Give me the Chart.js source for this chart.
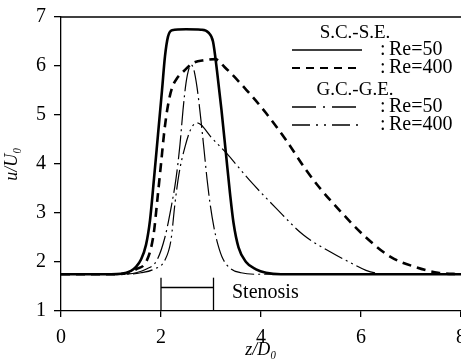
<!DOCTYPE html>
<html>
<head>
<meta charset="utf-8">
<script src="https://cdn.jsdelivr.net/npm/chart.js@4/dist/chart.umd.min.js"></script>
<style>
  html, body { margin: 0; padding: 0; background: #fff; }
  #wrap { width: 461px; height: 361px; }
</style>
</head>
<body>
<div id="wrap"><canvas id="chart" width="461" height="361"></canvas></div>
<script>
// S.C.-S.E., Re=50 (solid)
const scZ50 = [0, 1.0, 1.2, 1.4, 1.5, 1.6, 1.7, 1.78, 1.86, 1.94, 2.02, 2.08, 2.14, 2.22, 2.5, 2.8, 2.95, 3.04, 3.12, 3.21, 3.3, 3.38, 3.45, 3.55, 3.7, 3.9, 4.1, 4.4, 8];
const scU50 = [1.75, 1.75, 1.76, 1.82, 1.9, 2.05, 2.35, 2.85, 3.7, 4.6, 5.5, 6.2, 6.6, 6.73, 6.75, 6.74, 6.68, 6.5, 5.9, 5.1, 4.2, 3.4, 2.8, 2.3, 2.0, 1.85, 1.78, 1.75, 1.75];

// S.C.-S.E., Re=400 (dashed)
const scZ400 = [0, 1.0, 1.3, 1.5, 1.72, 1.85, 1.93, 2.0, 2.07, 2.14, 2.22, 2.32, 2.44, 2.64, 2.88, 3.08, 3.27, 3.71, 4.1, 4.5, 4.9, 5.16, 5.62, 6.09, 6.6, 7.08, 7.54, 8];
const scU400 = [1.75, 1.75, 1.77, 1.85, 2.04, 2.55, 3.3, 4.0, 4.7, 5.2, 5.55, 5.75, 5.88, 6.06, 6.12, 6.14, 5.98, 5.51, 5.04, 4.49, 3.88, 3.53, 3.0, 2.51, 2.1, 1.9, 1.78, 1.75];

// G.C.-G.E., Re=50 (dash-dot)
const gcZ50 = [0, 1.2, 1.5, 1.7, 1.92, 2.08, 2.2, 2.3, 2.38, 2.44, 2.5, 2.56, 2.6, 2.65, 2.72, 2.78, 2.86, 2.92, 2.98, 3.06, 3.14, 3.24, 3.4, 3.6, 3.9, 8];
const gcU50 = [1.75, 1.75, 1.78, 1.85, 2.04, 2.51, 3.1, 3.7, 4.4, 5.1, 5.65, 5.95, 6.02, 5.95, 5.57, 5.07, 4.3, 3.7, 3.2, 2.7, 2.35, 2.06, 1.86, 1.78, 1.75, 1.75];

// G.C.-G.E., Re=400 (dash-dot-dot)
const gcZ400 = [0, 1.3, 1.6, 1.85, 2.08, 2.2, 2.28, 2.36, 2.48, 2.6, 2.72, 2.8, 3.0, 3.31, 3.77, 4.3, 4.85, 5.4, 5.8, 6.1, 6.4, 6.7, 8];
const gcU400 = [1.75, 1.75, 1.78, 1.85, 2.04, 2.45, 3.2, 3.8, 4.35, 4.72, 4.84, 4.8, 4.55, 4.22, 3.67, 3.1, 2.55, 2.2, 1.98, 1.83, 1.76, 1.75, 1.75];

// stenosis marker
const stenosisZ = [2, 3.05];
const stenosisTopU = 1.68;
const stenosisArrowU = 1.48;

const xTicks = [0, 2, 4, 6, 8];
const yTicks = [1, 2, 3, 4, 5, 6, 7];

const serif = '"Liberation Serif", "Times New Roman", serif';
Chart.defaults.font.family = serif;
Chart.defaults.color = "#000";

function pts(zs, us) {
  return zs.map((z, i) => ({ x: z, y: us[i] }));
}

const curveBase = {
  borderColor: "#000",
  pointRadius: 0,
  fill: false,
  cubicInterpolationMode: "monotone",
};

const markBase = {
  borderColor: "#000",
  borderWidth: 1.3,
  pointRadius: 0,
  fill: false,
  tension: 0,
};

const legendStyles = [
  { head: "S.C.-S.E." },
  { dash: [], width: 1.6, label: "Re=50" },
  { dash: [8, 6], width: 2, label: "Re=400" },
  { head: "G.C.-G.E." },
  { dash: [24, 7, 2, 7], width: 1.6, label: "Re=50" },
  { dash: [18, 6, 2, 6, 2, 6], width: 1.6, label: "Re=400" },
];

const extras = {
  id: "extras",
  afterDraw(chart) {
    const { ctx, chartArea, scales } = chart;
    ctx.save();
    // top border
    ctx.strokeStyle = "#000";
    ctx.lineWidth = 1.3;
    ctx.beginPath();
    ctx.moveTo(chartArea.left, chartArea.top);
    ctx.lineTo(chart.width, chartArea.top);
    ctx.stroke();

    // stenosis label
    ctx.fillStyle = "#000";
    ctx.font = "20px " + serif;
    ctx.textBaseline = "middle";
    ctx.textAlign = "left";
    ctx.fillText("Stenosis", scales.x.getPixelForValue(3.42), scales.y.getPixelForValue(1.37));

    // legend
    const rowY = [33, 50, 68, 90, 107, 125];
    legendStyles.forEach((r, i) => {
      const y = rowY[i];
      if (r.head) {
        ctx.font = "19px " + serif;
        ctx.textAlign = "center";
        ctx.fillText(r.head, 355, y);
        return;
      }
      ctx.setLineDash(r.dash);
      ctx.lineWidth = r.width;
      ctx.beginPath();
      ctx.moveTo(292, y);
      ctx.lineTo(362, y);
      ctx.stroke();
      ctx.setLineDash([]);
      ctx.font = "20px " + serif;
      ctx.textAlign = "left";
      ctx.fillText(":", 380, y);
      ctx.fillText(r.label, 389, y);
    });
    ctx.restore();
  },
};

new Chart(document.getElementById("chart"), {
  type: "line",
  data: {
    datasets: [
      { ...curveBase, data: pts(scZ50, scU50), borderWidth: 2.6 },
      { ...curveBase, data: pts(scZ400, scU400), borderWidth: 2.6, borderDash: [9, 6] },
      { ...curveBase, data: pts(gcZ50, gcU50), borderWidth: 1.2, borderDash: [24, 4, 2, 4] },
      { ...curveBase, data: pts(gcZ400, gcU400), borderWidth: 1.2, borderDash: [20, 4, 2, 4, 2, 4] },
      { ...markBase, data: [{ x: stenosisZ[0], y: 1 }, { x: stenosisZ[0], y: stenosisTopU }] },
      { ...markBase, data: [{ x: stenosisZ[1], y: 1 }, { x: stenosisZ[1], y: stenosisTopU }] },
      { ...markBase, data: [{ x: stenosisZ[0], y: stenosisArrowU }, { x: stenosisZ[1], y: stenosisArrowU }] },
    ],
  },
  options: {
    responsive: false,
    animation: false,
    devicePixelRatio: 1,
    layout: { padding: { top: 17, left: 0, right: 0, bottom: 0 } },
    plugins: { legend: { display: false }, tooltip: { enabled: false } },
    scales: {
      x: {
        type: "linear",
        min: 0,
        max: 8,
        afterBuildTicks: (s) => { s.ticks = xTicks.map((v) => ({ value: v })); },
        afterFit: (s) => { s.height = 50; s.paddingRight = 0; s.paddingLeft = 0; },
        ticks: { font: { size: 20 }, padding: 9, color: "#000" },
        grid: { drawOnChartArea: false, tickLength: 6, color: "#000", lineWidth: 1.3 },
        border: { color: "#000", width: 1.3 },
        title: {
          display: true,
          text: "z/D\u2080",
          font: { size: 18, style: "italic" },
          padding: { top: 0, bottom: 0 },
        },
      },
      y: {
        type: "linear",
        min: 1,
        max: 7,
        afterBuildTicks: (s) => { s.ticks = yTicks.map((v) => ({ value: v })); },
        afterFit: (s) => { s.width = 61; s.paddingTop = 0; },
        ticks: { font: { size: 20 }, padding: 8, color: "#000" },
        grid: { drawOnChartArea: false, tickLength: 7, color: "#000", lineWidth: 1.3 },
        border: { color: "#000", width: 1.3 },
        title: {
          display: true,
          text: "u/U\u2080",
          font: { size: 18, style: "italic" },
          padding: { top: 1, bottom: 0 },
        },
      },
    },
  },
  plugins: [extras],
});
</script>
</body>
</html>
